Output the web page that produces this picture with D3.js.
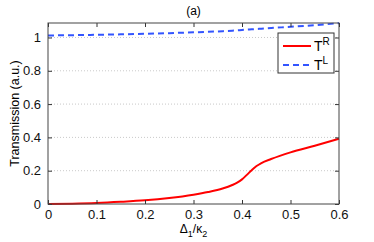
<!DOCTYPE html>
<html>
<head>
<meta charset="utf-8">
<script src="https://cdn.jsdelivr.net/npm/d3@7"></script>
<style>
  body { margin: 0; background: #fff; }
  svg { font-family: "Liberation Sans", Arial, sans-serif; }
</style>
</head>
<body>
<svg id="chart" width="374" height="242"></svg>
<script>
// values
const detuning = [0, 0.05, 0.1, 0.15, 0.2, 0.25, 0.3, 0.33, 0.36, 0.38, 0.39, 0.4, 0.41, 0.42, 0.43, 0.44, 0.46, 0.5, 0.55, 0.6];
const transR = [0, 0.002, 0.006, 0.013, 0.022, 0.036, 0.056, 0.072, 0.093, 0.114, 0.128, 0.148, 0.175, 0.203, 0.228, 0.246, 0.27, 0.31, 0.35, 0.392];
const transL = [1.012, 1.014, 1.016, 1.019, 1.022, 1.026, 1.031, 1.034, 1.038, 1.041, 1.043, 1.045, 1.047, 1.049, 1.051, 1.053, 1.057, 1.064, 1.074, 1.086];
const xTicks = [0, 0.1, 0.2, 0.3, 0.4, 0.5, 0.6];
const yTicks = [0, 0.2, 0.4, 0.6, 0.8, 1];

const svg = d3.select("#chart");
const plotL = 48, plotR = 339, plotT = 23, plotB = 204;

const x = d3.scaleLinear().domain([0, 0.6]).range([plotL, plotR]);
const y = d3.scaleLinear().domain([0, 1.087]).range([plotB, plotT]);

// dotted horizontal grid
svg.append("g")
    .selectAll("line")
    .data(yTicks.slice(1))
    .enter().append("line")
    .attr("x1", plotL).attr("x2", plotR)
    .attr("y1", d => y(d)).attr("y2", d => y(d))
    .attr("stroke", "#bbb")
    .attr("stroke-width", 0.8)
    .attr("stroke-dasharray", "1,2");

const line = d3.line()
    .x(d => x(d[0]))
    .y(d => y(d[1]))
    .curve(d3.curveMonotoneX);

svg.append("path")
    .datum(detuning.map((d, i) => [d, transR[i]]))
    .attr("d", line)
    .attr("fill", "none")
    .attr("stroke", "#ff0000")
    .attr("stroke-width", 2);

svg.append("path")
    .datum(detuning.map((d, i) => [d, transL[i]]))
    .attr("d", line)
    .attr("fill", "none")
    .attr("stroke", "#3355ff")
    .attr("stroke-width", 2)
    .attr("stroke-dasharray", "6,4");

// axes, ticks pointing inward
const xAxis = svg.append("g")
    .attr("transform", `translate(0,${plotB})`)
    .call(d3.axisBottom(x).tickValues(xTicks).tickSize(-4).tickPadding(6).tickFormat(d3.format("")));
const xTop = svg.append("g")
    .attr("transform", `translate(0,${plotT})`)
    .call(d3.axisTop(x).tickValues(xTicks).tickSize(-4).tickFormat(""));
const yAxis = svg.append("g")
    .attr("transform", `translate(${plotL},0)`)
    .call(d3.axisLeft(y).tickValues(yTicks).tickSize(-4).tickPadding(7).tickFormat(d3.format("")));
const yRight = svg.append("g")
    .attr("transform", `translate(${plotR},0)`)
    .call(d3.axisRight(y).tickValues(yTicks).tickSize(-4).tickFormat(""));

[xAxis, xTop, yAxis, yRight].forEach(g => {
    g.select(".domain").remove();
    g.selectAll("line").attr("stroke", "#333");
    g.selectAll("text").attr("fill", "#111").style("font-size", "13px");
});

svg.append("rect")
    .attr("x", plotL).attr("y", plotT)
    .attr("width", plotR - plotL).attr("height", plotB - plotT)
    .attr("fill", "none")
    .attr("stroke", "#444")
    .attr("stroke-width", 1);

// title and labels
svg.append("text")
    .attr("x", (plotL + plotR) / 2).attr("y", 15)
    .attr("text-anchor", "middle")
    .style("font-size", "12px")
    .text("(a)");

svg.append("text")
    .attr("transform", `translate(19,${(plotT + plotB) / 2}) rotate(-90)`)
    .attr("text-anchor", "middle")
    .style("font-size", "12.5px")
    .text("Transmission (a.u.)");

const xl = svg.append("text")
    .attr("x", (plotL + plotR) / 2).attr("y", 233)
    .attr("text-anchor", "middle")
    .style("font-size", "12px");
xl.append("tspan").text("Δ");
xl.append("tspan").attr("dy", 4).style("font-size", "9px").text("1");
xl.append("tspan").attr("dy", -4).text("/κ");
xl.append("tspan").attr("dy", 4).style("font-size", "9px").text("2");

// legend
const lg = svg.append("g").attr("transform", "translate(278,33)");
lg.append("rect")
    .attr("width", 56).attr("height", 40)
    .attr("fill", "#fff")
    .attr("stroke", "#333");
const items = [
    { name: "R", color: "#ff0000", dash: null },
    { name: "L", color: "#3355ff", dash: "6,4" }
];
items.forEach((it, i) => {
    const cy = 13 + i * 19;
    lg.append("line")
        .attr("x1", 5).attr("x2", 33)
        .attr("y1", cy).attr("y2", cy)
        .attr("stroke", it.color)
        .attr("stroke-width", 2)
        .attr("stroke-dasharray", it.dash);
    const t = lg.append("text")
        .attr("x", 36).attr("y", cy + 5)
        .style("font-size", "14px");
    t.append("tspan").text("T");
    t.append("tspan").attr("dy", -6).style("font-size", "10px").text(it.name);
});
</script>
</body>
</html>
